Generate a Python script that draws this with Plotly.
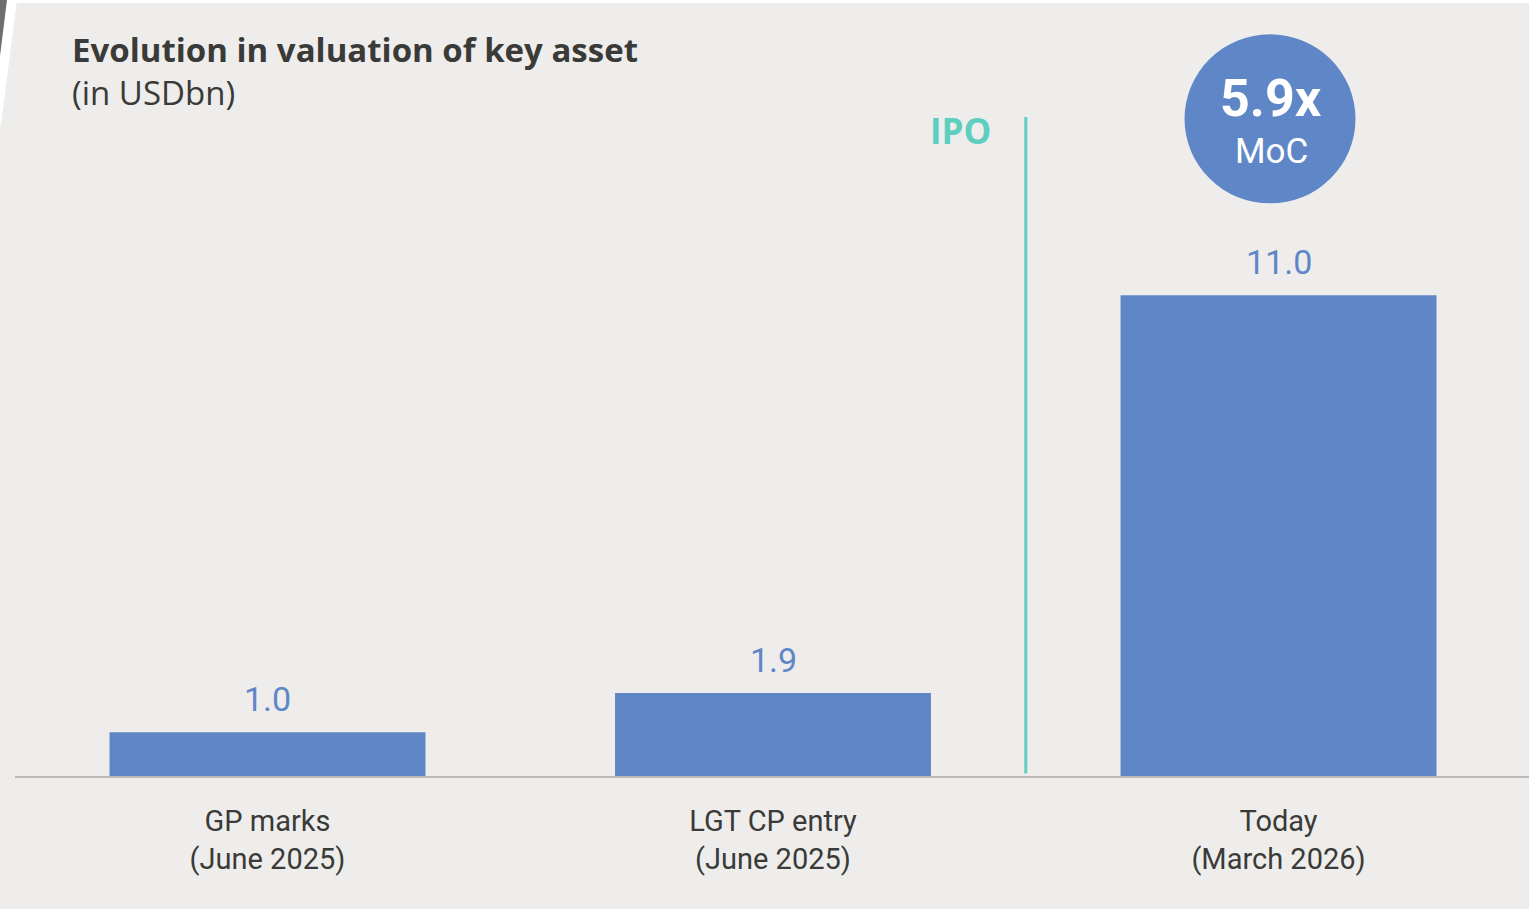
import plotly.graph_objects as go

# ---- data ----
categories = ["GP marks<br>(June 2025)", "LGT CP entry<br>(June 2025)", "Today<br>(March 2026)"]
values = [1.0, 1.9, 11.0]
value_labels = ["1.0", "1.9", "11.0"]
title_text = "Evolution in valuation of key asset"
subtitle_text = "(in USDbn)"
event_label = "IPO"
event_position = 1.5
moc_value = "5.9x"
moc_label = "MoC"

# ---- style / layout ----
W, H = 1529, 909
ML, MR, MT, MB = 15, 0, 0, 133
PLOT_W = W - ML - MR
PLOT_H = H - MT - MB
BG = "#EEEDEB"
BLUE = "#5F87C7"
TEAL = "#5ECFBF"
AXIS = "#BDBBB8"
DARK = "#3A3A38"
FONT = "Roboto"
FONT_WIDE = "Open Sans"
Y_MAX = 17.76


def px_x(p):
    return (p - ML) / PLOT_W


def px_y(p):
    return (MT + PLOT_H - p) / PLOT_H


def path(points):
    pts = [(px_x(a), px_y(b)) for a, b in points]
    return "M " + " L ".join(f"{a:.5f},{b:.5f}" for a, b in pts) + " Z"


xpos = list(range(len(categories)))

fig = go.Figure(
    go.Bar(
        x=xpos,
        y=values,
        width=0.625,
        marker=dict(color=BLUE, line=dict(width=0)),
        hoverinfo="skip",
    )
)

annotations = []
for xi, v, lab in zip(xpos, values, value_labels):
    annotations.append(dict(
        x=xi, y=v, xref="x", yref="y", text=lab, showarrow=False,
        yanchor="middle", xanchor="center", yshift=33,
        font=dict(family=FONT, size=34, color=BLUE),
    ))

# title & subtitle
annotations.append(dict(
    x=px_x(73), y=px_y(50), xref="paper", yref="paper", text=f"<b>{title_text}</b>",
    showarrow=False, xanchor="left", yanchor="middle", xshift=-3,
    font=dict(family=FONT_WIDE, size=33, color=DARK),
))
annotations.append(dict(
    x=px_x(73), y=px_y(92), xref="paper", yref="paper", text=subtitle_text,
    showarrow=False, xanchor="left", yanchor="middle", xshift=-3,
    font=dict(family=FONT_WIDE, size=33, color=DARK),
))

# IPO marker text
ipo_top = 15.08
annotations.append(dict(
    x=event_position, y=ipo_top, xref="x", yref="y", text=f"<b>{event_label}</b>",
    showarrow=False, xanchor="center", yanchor="middle", xshift=-65, yshift=-13,
    font=dict(family=FONT_WIDE, size=35, color=TEAL),
))

# MoC bubble text
last = len(values) - 1
annotations.append(dict(
    x=xpos[last], y=values[last], xref="x", yref="y", text=f"<b>{moc_value}</b>",
    showarrow=False, xanchor="center", yanchor="middle", xshift=-8, yshift=197,
    font=dict(family=FONT, size=52, color="white"),
))
annotations.append(dict(
    x=xpos[last], y=values[last], xref="x", yref="y", text=moc_label,
    showarrow=False, xanchor="center", yanchor="middle", xshift=-7, yshift=144,
    font=dict(family=FONT, size=35, color="white"),
))

shapes = [
    # IPO line
    dict(type="line", xref="x", yref="y", x0=event_position, x1=event_position,
         y0=0.06, y1=ipo_top, line=dict(color=TEAL, width=3), layer="above"),
    # MoC circle
    dict(type="circle", xref="x", yref="y", xsizemode="pixel", ysizemode="pixel",
         xanchor=xpos[last], yanchor=values[last], x0=-94, x1=77, y0=92, y1=261,
         fillcolor=BLUE, line=dict(width=0), layer="below"),
    # top white strip
    dict(type="rect", xref="paper", yref="paper", x0=px_x(0), x1=px_x(W),
         y0=px_y(3), y1=px_y(0), fillcolor="white", line=dict(width=0), layer="below"),
    # cropped slide artifact (top-left)
    dict(type="path", xref="paper", yref="paper", path=path([(0, 0), (17, 0), (1, 125), (0, 125)]),
         fillcolor="white", line=dict(width=0), layer="below"),
    dict(type="path", xref="paper", yref="paper", path=path([(0, 0), (7, 0), (0, 56)]),
         fillcolor="#6E6E6E", line=dict(width=0), layer="below"),
]

fig.update_layout(
    width=W, height=H,
    margin=dict(l=ML, r=MR, t=MT, b=MB),
    paper_bgcolor=BG, plot_bgcolor=BG,
    showlegend=False,
    annotations=annotations,
    shapes=shapes,
    xaxis=dict(
        range=[-0.4995, 2.4955], tickvals=xpos, ticktext=categories,
        showline=True, linecolor=AXIS, linewidth=2, showgrid=False, zeroline=False,
        ticks="", ticklabelstandoff=18, fixedrange=True,
        tickfont=dict(family=FONT, size=29, color=DARK),
    ),
    yaxis=dict(range=[0, Y_MAX], visible=False, fixedrange=True),
    font=dict(family=FONT),
)

fig.write_html(
    "out.html",
    config={"displayModeBar": False},
    post_script="document.body.style.margin='0';document.body.style.overflow='hidden';",
)
